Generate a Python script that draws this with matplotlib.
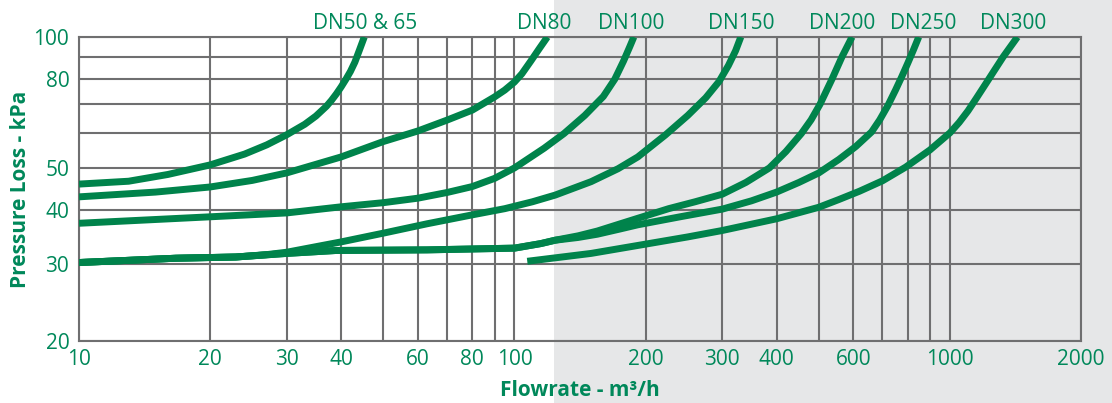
import matplotlib
matplotlib.use("Agg")
import matplotlib.pyplot as plt
from matplotlib.patches import Rectangle
from matplotlib.transforms import blended_transform_factory

# ---------------- data ----------------
flow_dn50 = [10, 13, 16, 20, 24, 27, 30, 33, 35, 37, 38, 39, 40, 41, 42, 43, 44, 45.2]
dp_dn50 = [45.9, 46.6, 48.3, 50.8, 53.8, 56.5, 59.6, 63.0, 65.8, 69.3, 71.5, 74.0, 76.8, 79.9, 83.3, 87.5, 93.0, 100]

flow_dn80 = [10, 15, 20, 25, 30, 40, 50, 60, 70, 80, 90, 95, 100, 104, 109, 114, 119]
dp_dn80 = [42.9, 44.0, 45.2, 46.8, 48.7, 53.0, 57.5, 60.8, 64.4, 67.9, 72.8, 75.5, 78.8, 82.3, 88.0, 94.0, 100]

flow_dn100 = [10, 20, 30, 40, 50, 60, 70, 80, 90, 100, 117, 130, 145, 160, 170, 178, 184, 188]
dp_dn100 = [37.3, 38.6, 39.4, 40.7, 41.6, 42.6, 43.9, 45.3, 47.3, 50.0, 55.5, 60.0, 66.0, 73.0, 80.0, 88.0, 95.0, 100]

flow_dn150 = [10, 16.7, 22.9, 27, 30, 40, 50, 63, 80, 95, 110, 124, 150, 173, 192, 222, 250, 275, 295, 310, 322, 331]
dp_dn150 = [30.3, 31.0, 31.2, 31.6, 32.0, 33.8, 35.4, 37.2, 39.0, 40.3, 41.8, 43.3, 46.5, 49.8, 53.0, 59.5, 66.0, 72.5, 79.0, 86.0, 93.0, 100]

flow_dn200 = [10, 16.7, 22.9, 30, 39, 63, 100, 115, 124, 140, 155, 175, 192, 226, 260, 300, 340, 385, 420, 456, 480, 503, 536, 565, 596]
dp_dn200 = [30.3, 31.0, 31.2, 31.8, 32.3, 32.4, 32.7, 33.5, 34.1, 34.9, 35.8, 37.2, 38.3, 40.3, 41.8, 43.5, 46.3, 50.0, 54.5, 60.0, 64.5, 70.0, 80.0, 90.0, 100]

flow_dn250 = [10, 16.7, 22.9, 30, 39, 63, 100, 115, 124, 140, 155, 175, 192, 240, 300, 350, 400, 450, 500, 556, 608, 661, 690, 720, 750, 775, 800, 825, 848]
dp_dn250 = [30.3, 31.0, 31.2, 31.8, 32.3, 32.4, 32.7, 33.5, 34.1, 34.6, 35.2, 36.2, 37.0, 38.6, 40.2, 42.0, 44.0, 46.3, 48.7, 52.3, 56.0, 60.5, 64.5, 69.5, 75.5, 81.0, 87.0, 93.5, 100]

flow_dn300 = [107, 150, 200, 250, 300, 400, 500, 556, 620, 700, 791, 900, 1000, 1050, 1100, 1150, 1211, 1270, 1325, 1429]
dp_dn300 = [30.5, 31.8, 33.4, 34.7, 35.9, 38.2, 40.6, 42.3, 44.2, 46.7, 50.2, 55.0, 60.2, 63.6, 67.6, 72.3, 78.3, 84.3, 90.0, 100]

series_labels = ["DN50 & 65", "DN80", "DN100", "DN150", "DN200", "DN250", "DN300"]
label_x = [45.3, 117.3, 185, 331, 565, 866, 1397]

x_ticks = [10, 20, 30, 40, 50, 60, 70, 80, 90, 100, 200, 300, 400, 500, 600, 700, 800, 900, 1000, 2000]
x_tick_labels = ["10", "20", "30", "40", "", "60", "", "80", "", "100", "200", "300", "400", "",
                 "600", "", "", "", "1000", "2000"]
y_ticks = [20, 30, 40, 50, 60, 70, 80, 90, 100]
y_tick_labels = ["20", "30", "40", "50", "", "", "80", "", "100"]

shade_start = 123

# ---------------- style ----------------
GREEN_LINE = "#00834b"
GREEN_TEXT = "#00885a"
GRID = "#6f6f70"
SHADE = "#e6e7e8"
FONT = ["Open Sans", "DejaVu Sans"]
plt.rcParams["font.family"] = FONT

fig = plt.figure(figsize=(11.12, 4.03), dpi=100)
fig.patch.set_facecolor("white")
ax = fig.add_axes([79 / 1112, 1 - 341 / 403, (1081 - 79) / 1112, (341 - 37) / 403])
ax.set_facecolor("none")

ax.set_xscale("log")
ax.set_yscale("log")
ax.set_xlim(10, 2000)
ax.set_ylim(20, 100)

# grey background band (extends across the whole figure height)
trans = blended_transform_factory(ax.transData, fig.transFigure)
fig.patches.append(Rectangle((shade_start, 0), 1e6, 1, transform=trans,
                             facecolor=SHADE, edgecolor="none", zorder=-5))

ax.minorticks_off()
ax.set_xticks(x_ticks)
ax.set_xticklabels(x_tick_labels)
ax.set_yticks(y_ticks)
ax.set_yticklabels(y_tick_labels)
ax.tick_params(axis="both", which="both", length=0, labelsize=15, colors=GREEN_TEXT)
ax.tick_params(axis="x", pad=6)
ax.tick_params(axis="y", pad=7)
ax.grid(True, which="major", color=GRID, linewidth=1.5, zorder=1)
for s in ax.spines.values():
    s.set_color(GRID)
    s.set_linewidth(1.5)

curves = [(flow_dn50, dp_dn50), (flow_dn80, dp_dn80), (flow_dn100, dp_dn100),
          (flow_dn150, dp_dn150), (flow_dn200, dp_dn200), (flow_dn250, dp_dn250),
          (flow_dn300, dp_dn300)]
for fx, fy in curves:
    ax.plot(fx, fy, color=GREEN_LINE, linewidth=5.0, solid_capstyle="butt",
            solid_joinstyle="round", zorder=3)

for lab, lx in zip(series_labels, label_x):
    ax.annotate(lab, xy=(lx, 1.0), xycoords=("data", "axes fraction"),
                xytext=(0, 6), textcoords="offset points",
                ha="center", va="baseline", fontsize=15, color=GREEN_TEXT,
                annotation_clip=False)

ax.set_xlabel("Flowrate - m³/h", fontsize=15, fontweight="bold", color=GREEN_TEXT, labelpad=7)
ax.set_ylabel("Pressure Loss - kPa", fontsize=15, fontweight="bold", color=GREEN_TEXT, labelpad=2)

fig.savefig("out.png", dpi=100)
